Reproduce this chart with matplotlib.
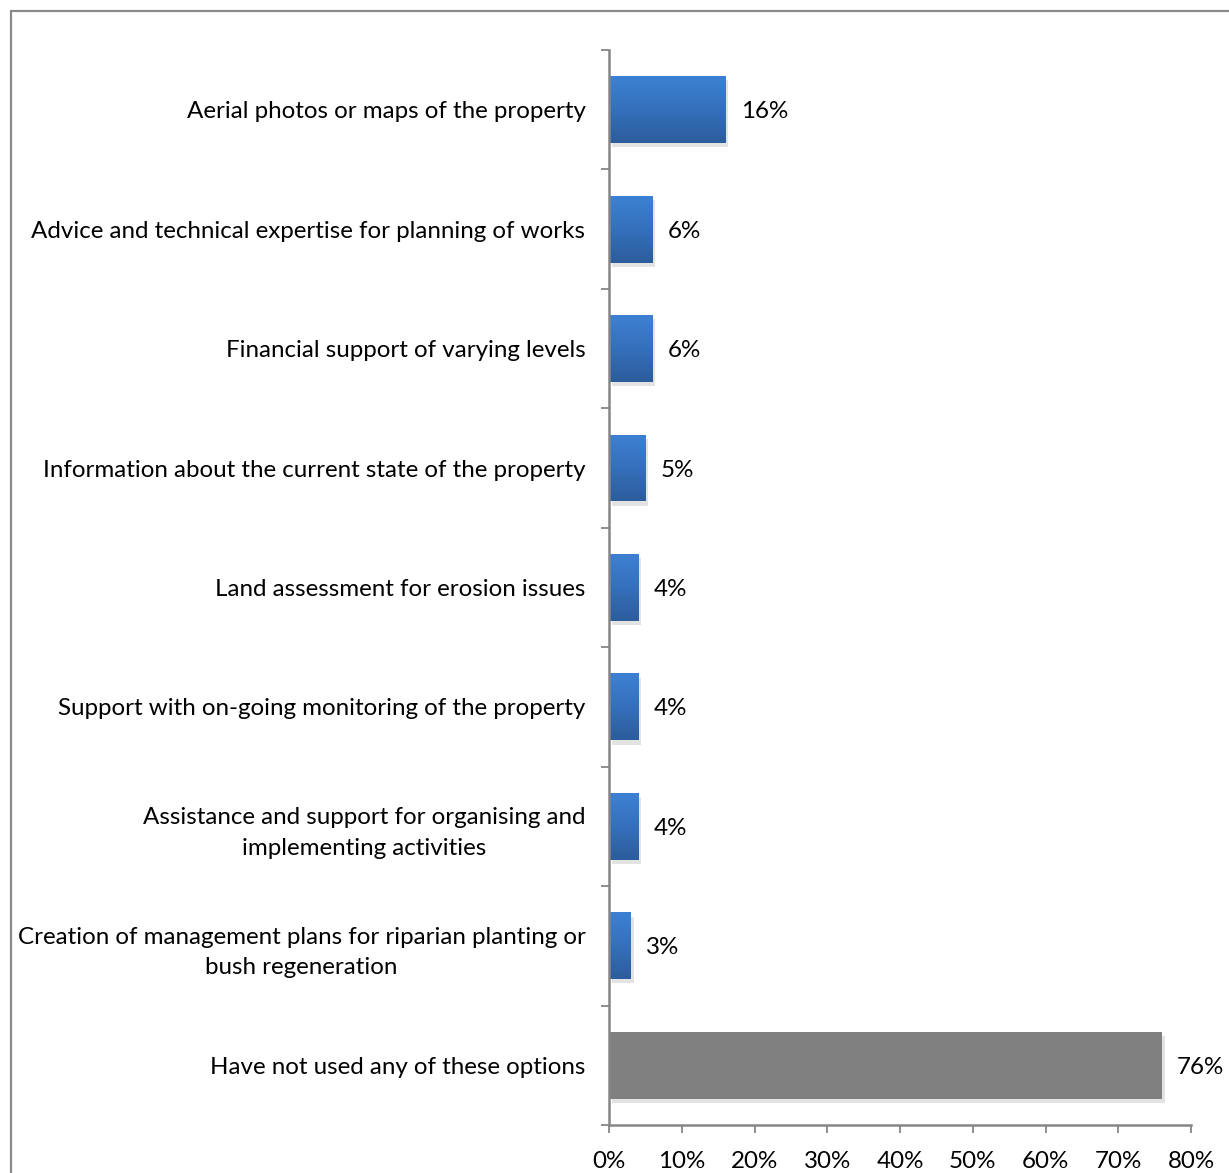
import numpy as np
import matplotlib
matplotlib.use("Agg")
import matplotlib.pyplot as plt
from matplotlib.colors import LinearSegmentedColormap
from matplotlib.patches import Rectangle
import matplotlib.patheffects as pe

plt.rcParams['font.family'] = ['Lato', 'DejaVu Sans']

categories = [
    "Aerial photos or maps of the property",
    "Advice and technical expertise for planning of works",
    "Financial support of varying levels",
    "Information about the current state of the property",
    "Land assessment for erosion issues",
    "Support with on-going monitoring of the property",
    "Assistance and support for organising and\nimplementing activities",
    "Creation of management plans for riparian planting or\nbush regeneration",
    "Have not used any of these options",
]
values = [16, 6, 6, 5, 4, 4, 4, 3, 76]
value_labels = ["16%", "6%", "6%", "5%", "4%", "4%", "4%", "3%", "76%"]
xticks = [0, 10, 20, 30, 40, 50, 60, 70, 80]
xtick_labels = ["0%", "10%", "20%", "30%", "40%", "50%", "60%", "70%", "80%"]

W, H = 1229, 1173
fig = plt.figure(figsize=(W / 100, H / 100), dpi=100)
ax = fig.add_axes([609 / W, 1 - 1125 / H, (1191 - 609) / W, (1125 - 50) / H])

axis_grey = "#868686"
blue_grad = LinearSegmentedColormap.from_list("bluegrad", ["#3d80d3", "#3570bb", "#2c5d9c"])
grad = np.linspace(0, 1, 64).reshape(-1, 1)
fs = 17.4

bar_h = 0.56
y = np.arange(len(categories))
n_blue = len(categories) - 1

bars = ax.barh(y, values, height=bar_h, color="none", edgecolor="none", zorder=2)
for i, (b, v) in enumerate(zip(bars, values)):
    x0, y0 = b.get_x(), b.get_y()
    h = b.get_height()
    # soft drop shadow behind each bar
    ax.add_patch(Rectangle((x0, y0), v, h, facecolor="#000000", alpha=0.0,
                           path_effects=[pe.SimplePatchShadow(offset=(2, -3), shadow_rgbFace="#b0b0b0", alpha=0.35)],
                           zorder=1))
    if i < n_blue:
        im = ax.imshow(grad, cmap=blue_grad, aspect="auto", origin="upper",
                       extent=(x0, x0 + v, y0 + h, y0), zorder=2, interpolation="bilinear")
        im.set_clip_path(b)
    else:
        b.set_facecolor("#808080")

for v, lab, yy in zip(values, value_labels, y):
    ax.annotate(lab, xy=(v, yy), xytext=(11, 0), textcoords="offset points",
                ha="left", va="center_baseline", fontsize=fs, color="#000000")

ax.set_xlim(0, 80)
ax.set_ylim(len(categories) - 0.5, -0.5)

ax.set_yticks(y)
ax.set_yticklabels(categories, fontsize=fs, multialignment="center", linespacing=1.55)
ax.tick_params(axis="y", which="major", length=0, pad=17)
ax.set_yticks(np.arange(-0.5, len(categories)), minor=True)
ax.tick_params(axis="y", which="minor", length=6, width=1.3, color=axis_grey, direction="out")

ax.set_xticks(xticks)
ax.set_xticklabels(xtick_labels, fontsize=fs)
ax.tick_params(axis="x", length=6, width=1.3, color=axis_grey, direction="out", pad=13)

for s in ("top", "right"):
    ax.spines[s].set_visible(False)
for s in ("left", "bottom"):
    ax.spines[s].set_color(axis_grey)
    ax.spines[s].set_linewidth(1.8)

# outer chart-area frame, running off the right and bottom edges
fig.add_artist(Rectangle((11 / W, -0.05), 1.2, 1 - 11 / H + 0.05, transform=fig.transFigure,
                         fill=False, edgecolor="#8a8a8a", linewidth=1.6))

fig.savefig("out.png", dpi=100)
